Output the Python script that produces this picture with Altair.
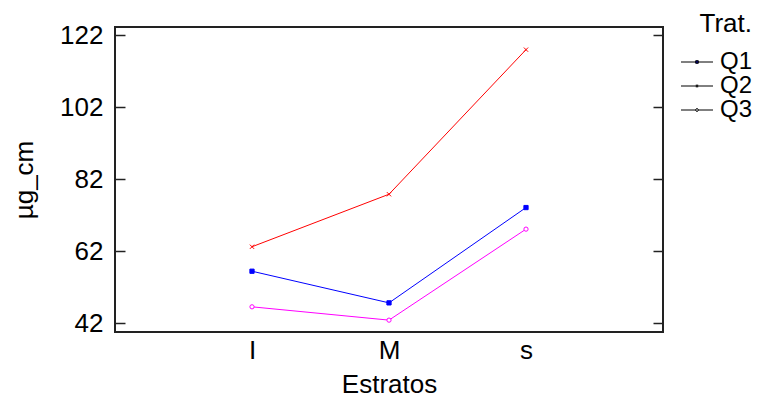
import altair as alt
import pandas as pd

estratos = ["I", "M", "s"]
trat = ["Q1", "Q2", "Q3"]
q1 = [56.4, 47.6, 74.1]
q2 = [63.2, 77.8, 118.0]
q3 = [46.5, 42.8, 68.1]
y_ticks = [42, 62, 82, 102, 122]
colors = ["#0000FF", "#FF0000", "#FF00FF"]

rows = []
for t, vals in zip(trat, [q1, q2, q3]):
    for e, v in zip(estratos, vals):
        rows.append({"Estratos": e, "Trat": t, "ug_cm": v})
df = pd.DataFrame(rows)

FONT = "Liberation Sans"
FS = 26
XPATH = "M-1,-1L1,1M-1,1L1,-1"

# legend symbols: a line with the series marker in the middle
LEG_Q1 = "M-1.6,0L1.6,0M-0.13,-0.13L0.13,-0.13L0.13,0.13L-0.13,0.13Z"
LEG_Q2 = "M-1.6,0L1.6,0M-0.07,-0.14L-0.07,0.14M0.07,-0.14L0.07,0.14"
LEG_Q3 = ("M-1.6,0L-0.14,0M0.14,0L1.6,0"
          "M-0.14,0A0.14,0.14 0 1,0 0.14,0A0.14,0.14 0 1,0 -0.14,0Z")

x = alt.X(
    "Estratos:N", sort=estratos,
    scale=alt.Scale(type="point", padding=1.12),
    axis=alt.Axis(title="Estratos", ticks=False, domain=False, labelAngle=0,
                  labelPadding=5, titlePadding=8, grid=False),
)
y_scale = alt.Scale(domain=[39.5, 124.3], nice=False, zero=False)
color_scale = alt.Scale(domain=trat, range=colors)

lines = alt.Chart(df).mark_line(strokeWidth=1).encode(
    x=x,
    y=alt.Y("ug_cm:Q", scale=y_scale,
            axis=alt.Axis(orient="left", values=y_ticks, offset=-10, tickSize=10,
                          tickWidth=1.5, tickColor="#222", domain=False, grid=False,
                          labelPadding=12, title="µg_cm", titlePadding=22)),
    stroke=alt.Stroke("Trat:N", scale=color_scale, legend=None),
)

points = alt.Chart(df).mark_point(size=18, strokeWidth=1, opacity=1).encode(
    x=x,
    y=alt.Y("ug_cm:Q", scale=y_scale,
            axis=alt.Axis(orient="right", values=y_ticks, offset=-10, tickSize=10,
                          tickWidth=1.5, tickColor="#222", labels=False, domain=False,
                          grid=False, title=None)),
    stroke=alt.Stroke("Trat:N", scale=color_scale, legend=None),
    shape=alt.Shape("Trat:N", scale=alt.Scale(domain=trat, range=["square", XPATH, "circle"]), legend=None),
    fill=alt.Fill("Trat:N", scale=alt.Scale(domain=trat, range=["#0000FF", "transparent", "#FFFFFF"]), legend=None),
)

legend = alt.Legend(
    title="Trat.", orient="none", legendX=570, legendY=-16,
    titleAnchor="end", titleFontSize=FS, labelFontSize=24,
    titleFont=FONT, labelFont=FONT, titleFontWeight="normal",
    titleColor="black", labelColor="black", rowPadding=0,
    labelOffset=11, titlePadding=13, symbolStrokeWidth=1, symbolSize=400,
    symbolStrokeColor="black", symbolFillColor="white",
)

legend_layer = alt.Chart(df).mark_point(filled=False, strokeWidth=1, size=400, opacity=1).encode(
    x=x,
    y=alt.Y("ug_cm:Q", scale=y_scale, axis=None),
    color=alt.Color("Trat:N", scale=alt.Scale(domain=trat, range=colors), legend=legend),
    fill=alt.Fill("Trat:N", scale=alt.Scale(domain=trat, range=["#0000FF", "#FFFFFF", "#FFFFFF"]), legend=legend),
    shape=alt.Shape("Trat:N", scale=alt.Scale(domain=trat, range=[LEG_Q1, LEG_Q2, LEG_Q3]), legend=legend),
).transform_filter("false")

chart = (
    alt.layer(lines, points, legend_layer)
    .resolve_axis(y="independent")
    .resolve_scale(shape="independent", fill="independent")
    .properties(width=548, height=305, padding={"left": 107, "top": 19, "right": 91, "bottom": 66},
                autosize=alt.AutoSizeParams(type="none"))
    .configure_view(stroke="#222", strokeWidth=2)
    .configure_axis(labelFont=FONT, titleFont=FONT, labelFontSize=FS, titleFontSize=FS,
                    labelColor="black", titleColor="black", titleFontWeight="normal")
)

chart.save("out.html", embed_options={"renderer": "svg", "actions": False})
